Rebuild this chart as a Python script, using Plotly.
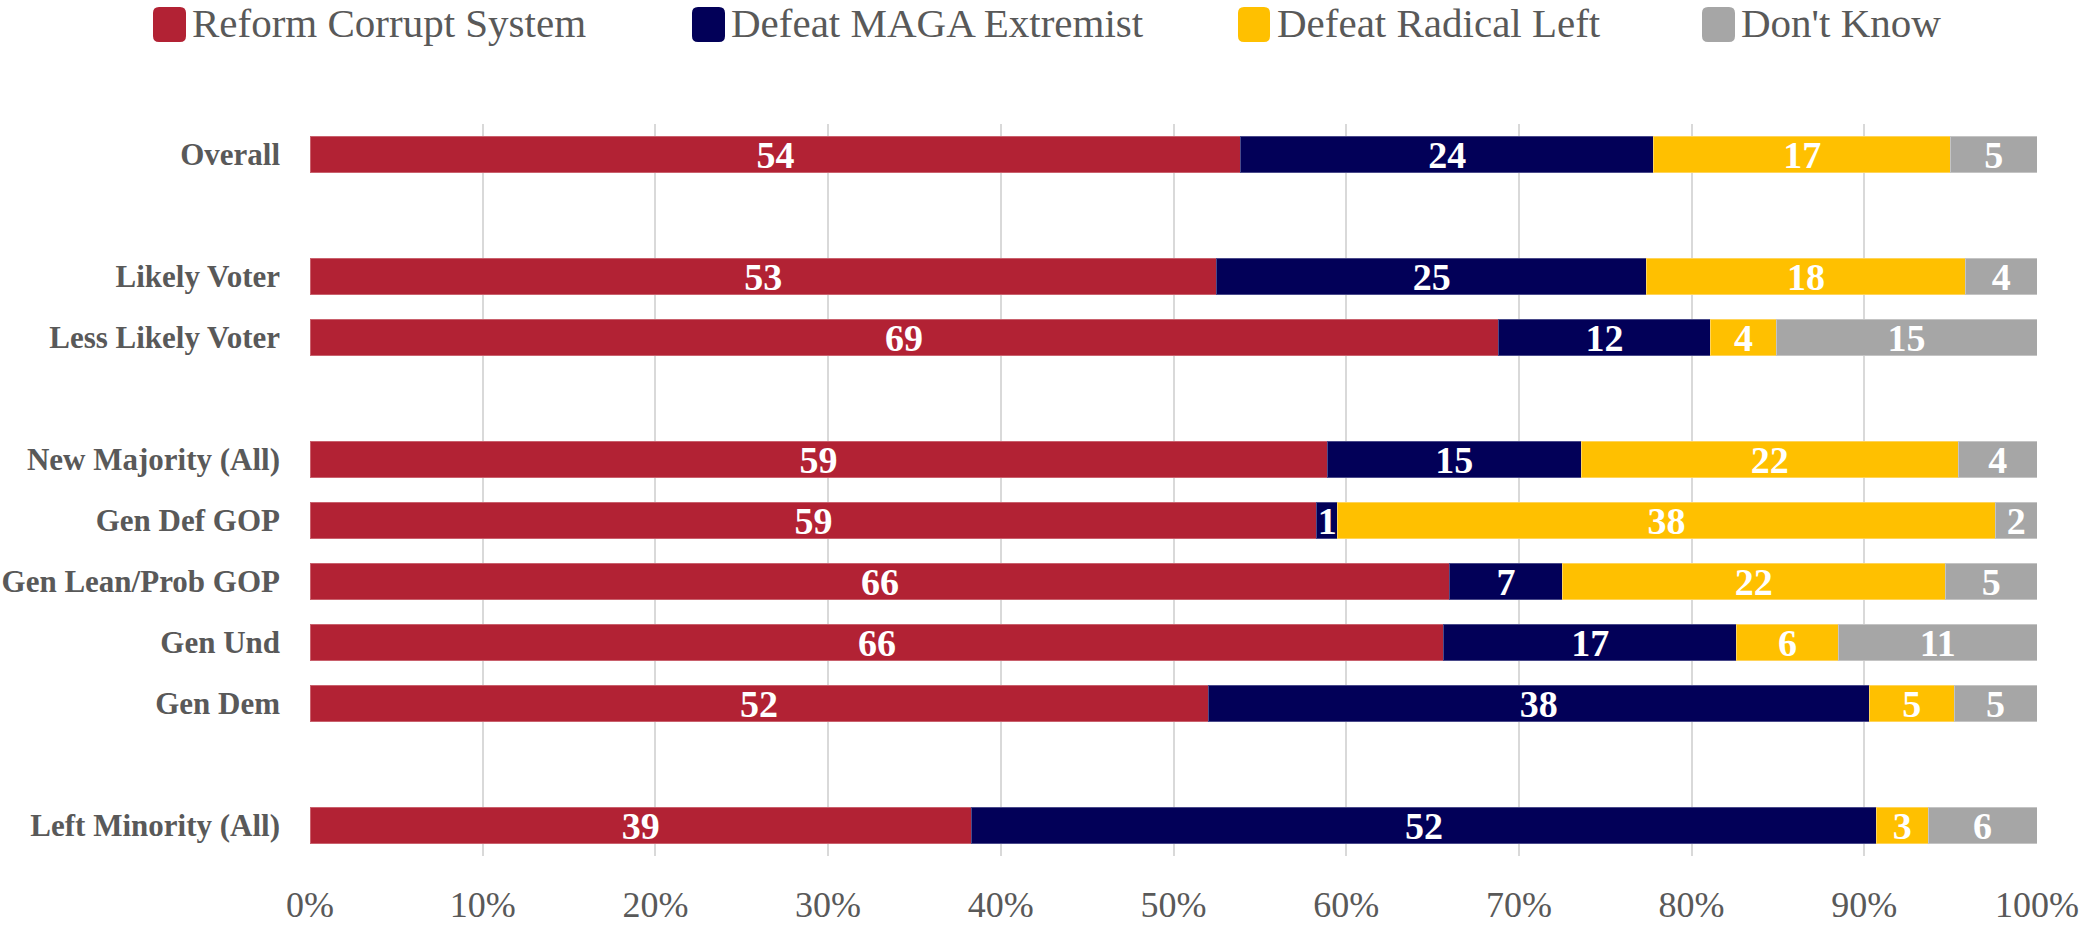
import plotly.graph_objects as go

# ---------------- data ----------------
categories = ["Overall", " ", "Likely Voter", "Less Likely Voter", "  ",
              "New Majority (All)", "Gen Def GOP", "Gen Lean/Prob GOP",
              "Gen Und", "Gen Dem", "   ", "Left Minority (All)"]
groups = ["Overall", "Likely Voter", "Less Likely Voter", "New Majority (All)",
          "Gen Def GOP", "Gen Lean/Prob GOP", "Gen Und", "Gen Dem",
          "Left Minority (All)"]
series_names = ["Reform Corrupt System", "Defeat MAGA Extremist",
                "Defeat Radical Left", "Don't Know"]

reform = [53.9, 52.5, 68.8, 58.9, 58.3, 66.0, 65.65, 52.0, 38.3]
maga = [23.9, 24.9, 12.3, 14.7, 1.2, 6.5, 16.95, 38.3, 52.4]
radical_left = [17.2, 18.45, 3.8, 21.85, 38.1, 22.2, 5.9, 4.9, 3.0]
dont_know = [5.0, 4.15, 15.1, 4.55, 2.4, 5.3, 11.5, 4.8, 6.3]

labels_reform = [54, 53, 69, 59, 59, 66, 66, 52, 39]
labels_maga = [24, 25, 12, 15, 1, 7, 17, 38, 52]
labels_left = [17, 18, 4, 22, 38, 22, 6, 5, 3]
labels_dk = [5, 4, 15, 4, 2, 5, 11, 5, 6]

x_ticks = [0, 10, 20, 30, 40, 50, 60, 70, 80, 90, 100]
x_tick_labels = ["0%", "10%", "20%", "30%", "40%", "50%", "60%", "70%",
                 "80%", "90%", "100%"]

colors = ["#B22234", "#020058", "#FFC000", "#A6A6A6"]
edge_colors = ["#C9616D", "#4A4A8A", "#FFD45A", "#C4C4C4"]

# ---------------- layout constants ----------------
W, H = 2082, 926
ML, MR, MT, MB = 310, 45, 124, 70
PW, PH = W - ML - MR, H - MT - MB
FONT = "Liberation Serif"
TXT = "#595959"


def px2paper(x, y):
    return (x - ML) / PW, 1 - (y - MT) / PH


fig = go.Figure()
series_vals = [reform, maga, radical_left, dont_know]
series_labels = [labels_reform, labels_maga, labels_left, labels_dk]
for name, vals, labs, col, ecol in zip(series_names, series_vals, series_labels,
                                       colors, edge_colors):
    fig.add_trace(go.Bar(
        y=groups, x=vals, name=name, orientation="h",
        marker=dict(color=col, line=dict(color=ecol, width=1)),
        text=[str(v) for v in labs], textposition="inside", textangle=0,
        insidetextanchor="middle", constraintext="none",
        textfont=dict(family=FONT, size=38, color="white", weight="bold"),
        showlegend=False, hoverinfo="skip",
    ))

# ---------------- manual legend ----------------
leg_sq_x = [(153, 186), (692, 725), (1238, 1270), (1702, 1735)]
leg_txt_x = [190, 729, 1275, 1739]
sq_top, sq_bot, rad = 7, 42, 6
shapes, annotations = [], []
for (x0, x1), tx, col, name in zip(leg_sq_x, leg_txt_x, colors, series_names):
    pts = [("M", x0 + rad, sq_top), ("L", x1 - rad, sq_top),
           ("Q", x1, sq_top, x1, sq_top + rad), ("L", x1, sq_bot - rad),
           ("Q", x1, sq_bot, x1 - rad, sq_bot), ("L", x0 + rad, sq_bot),
           ("Q", x0, sq_bot, x0, sq_bot - rad), ("L", x0, sq_top + rad),
           ("Q", x0, sq_top, x0 + rad, sq_top)]
    path = ""
    for p in pts:
        cmd = p[0]
        coords = p[1:]
        seg = []
        for i in range(0, len(coords), 2):
            px, py = px2paper(coords[i], coords[i + 1])
            seg.append(f"{px:.5f},{py:.5f}")
        path += cmd + " ".join(seg) + " "
    path += "Z"
    shapes.append(dict(type="path", xref="paper", yref="paper", path=path,
                       fillcolor=col, line=dict(width=0), layer="above"))
    ax, ay = px2paper(tx, 23)
    annotations.append(dict(xref="paper", yref="paper", x=ax, y=ay,
                            xanchor="left", yanchor="middle", showarrow=False,
                            text=name, font=dict(family=FONT, size=41, color=TXT)))

fig.update_layout(
    width=W, height=H,
    margin=dict(l=ML, r=MR, t=MT, b=MB, autoexpand=False),
    barmode="stack", bargap=0.41,
    plot_bgcolor="white", paper_bgcolor="white",
    font=dict(family=FONT, color=TXT),
    shapes=shapes, annotations=annotations,
    xaxis=dict(range=[0, 100], tickmode="array", tickvals=x_ticks,
               ticktext=x_tick_labels, automargin=False,
               showgrid=True, gridcolor="#D9D9D9", gridwidth=1.5,
               zeroline=False, showline=False, ticks="",
               tickfont=dict(family=FONT, size=36, color=TXT),
               ticklabelstandoff=24, fixedrange=True),
    yaxis=dict(type="category", categoryorder="array", categoryarray=categories,
               range=[len(categories) - 0.5, -0.5], showgrid=False,
               automargin=False, zeroline=False, showline=False, ticks="",
               tickfont=dict(family=FONT, size=31, color=TXT, weight="bold"),
               ticklabelstandoff=29, fixedrange=True),
)

fig.write_html(
    "out.html",
    config={"displayModeBar": False},
    post_script="document.body.style.margin='0';document.body.style.overflow='hidden';",
)
